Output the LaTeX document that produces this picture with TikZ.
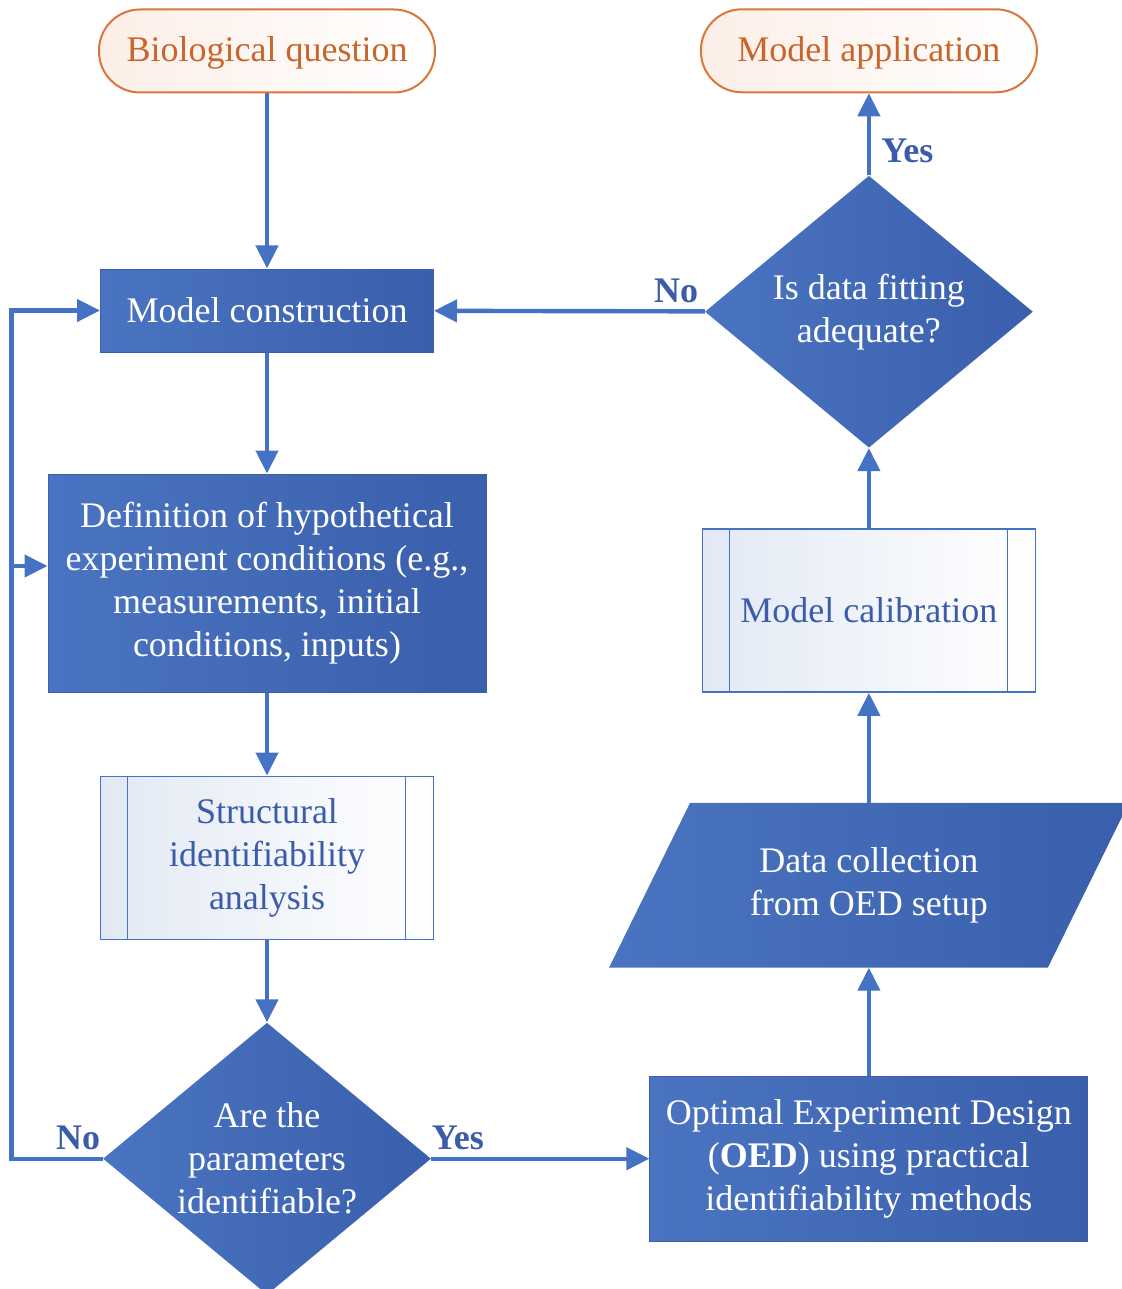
\documentclass[tikz,border=0pt]{standalone}
\usepackage{fontspec}
\setmainfont{Liberation Serif}
\usepackage{tikz}
\usetikzlibrary{arrows.meta}
\usetikzlibrary{positioning, shapes.geometric, backgrounds}
\definecolor{boxlight}{HTML}{4A74C1}
\definecolor{boxdark}{HTML}{3A5FAC}
\definecolor{lineblue}{HTML}{4472C4}
\definecolor{textblue}{HTML}{3B5CA8}
\definecolor{subshade}{HTML}{E2E9F4}
\definecolor{termline}{HTML}{D9773A}
\definecolor{termtext}{HTML}{C7652B}
\definecolor{termshade}{HTML}{FCEEE7}

\begin{document}
\begin{tikzpicture}[x=0.5pt, y=-0.5pt,
  every node/.style={font=\fontsize{18}{21.5}\selectfont, align=center},
  termbox/.style={draw=termline, line width=1pt, text=termtext, rounded corners=20.5pt, text depth=1.5pt,
    left color=termshade, right color=white, minimum width=168pt, minimum height=41.5pt},
  procbox/.style={draw=boxdark, line width=0.5pt, text=white, left color=boxlight, right color=boxdark, inner sep=2pt},
  subbox/.style={draw=lineblue, line width=0.9pt, text=textblue, left color=subshade, right color=white,
    minimum width=166.5pt, minimum height=81.5pt,
    path picture={\draw[lineblue, line width=0.9pt]
      ([xshift=13.5pt]path picture bounding box.north west) -- ([xshift=13.5pt]path picture bounding box.south west)
      ([xshift=-14pt]path picture bounding box.north east) -- ([xshift=-14pt]path picture bounding box.south east);}},
  decision/.style={shape=diamond, aspect=1.2, inner sep=0pt, text=white, left color=boxlight, right color=boxdark,
    minimum width=164pt, minimum height=136pt},
  databox/.style={text=white, inner sep=0pt, minimum width=219pt, minimum height=82pt},
  answer/.style={text=textblue, inner sep=0pt, font=\fontsize{18}{21.5}\selectfont\bfseries},
  link/.style={draw=lineblue, line width=2.2pt},
  flow/.style={link, -{Triangle[length=11.5pt,width=11pt]}}]
  \useasboundingbox (0,0) rectangle (1121,1289);

  \node[termbox] (bio) at (267,51) {Biological question};
  \node[procbox, minimum width=166.5pt, minimum height=41.5pt, below=87.5pt of bio] (constr) {Model construction};
  \node[procbox, minimum width=219pt, minimum height=109pt, below=60.5pt of constr] (defin) {Definition of hypothetical\\experiment conditions (e.g.,\\measurements, initial\\conditions, inputs)};
  \node[subbox, below=41.5pt of defin] (struct) {Structural\\identifiability\\analysis};
  \node[decision, below=41pt of struct] (ident) {Are the\\parameters\\identifiable?};
  \node[procbox, minimum width=219pt, minimum height=82.5pt, right=109pt of ident] (oed) {Optimal Experiment Design\\(\textbf{OED}) using practical\\identifiability methods};
  \node[databox, above=54pt of oed] (collect) {Data collection\\from OED setup};
  \node[subbox, above=55pt of collect] (calib) {Model calibration};
  \node[decision, above=40pt of calib] (fit) {Is data fitting\\adequate?};
  \node[termbox, above=41pt of fit] (app) {Model application};

  \begin{scope}[on background layer]
    \shade[left color=boxlight, right color=boxdark]
      ([xshift=-20.25pt]collect.south west) -- ([xshift=20.25pt]collect.north west)
      -- ([xshift=20.25pt]collect.north east) -- ([xshift=-20.25pt]collect.south east) -- cycle;
  \end{scope}

  \draw[flow] (bio) -- (constr);
  \draw[flow] (constr) -- (defin);
  \draw[flow] (defin) -- (struct);
  \draw[flow] (struct) -- (ident);
  \draw[flow] (ident) -- (oed);
  \draw[flow] (oed) -- (collect);
  \draw[flow] (collect) -- (calib);
  \draw[flow] (calib) -- (fit);
  \draw[flow] (fit) -- (app);
  \draw[flow] (fit) -- (constr);
  \coordinate[left=45.5pt of ident.west] (loop);
  \coordinate[above=8.5pt of defin.west] (definin);
  \draw[flow] (ident.west) -- (loop) |- (constr.west);
  \draw[flow] (loop |- definin) -- (definin);

  \node[answer, above left=4pt and 1pt of ident.west] (noident) {No};
  \node[answer, above right=4pt and 0pt of ident.east] (yesident) {Yes};
  \node[answer, above left=4pt and 3pt of fit.west] (nofit) {No};
  \node[answer, above right=6pt and 6pt of fit.north] (yesfit) {Yes};
\end{tikzpicture}
\end{document}
